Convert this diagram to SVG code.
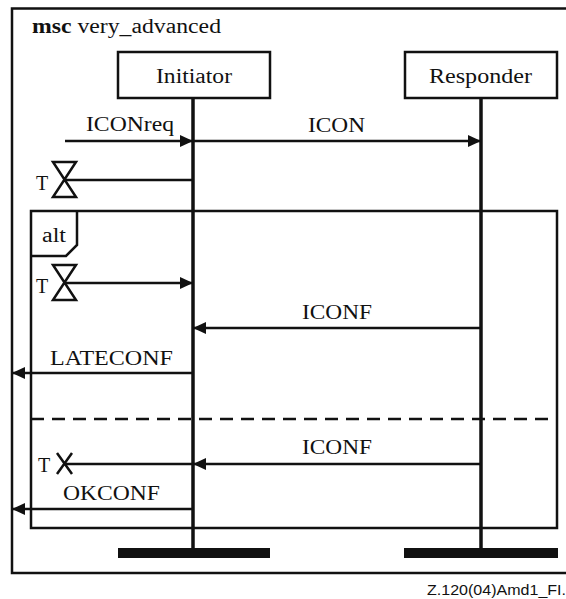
<svg xmlns="http://www.w3.org/2000/svg" width="566" height="599" viewBox="0 0 566 599">
<style>
.t{font-family:"Liberation Serif","Times New Roman",serif;font-size:20px;fill:#111}
.ln{stroke:#111;stroke-width:2.5;fill:none}
.life{stroke:#111;stroke-width:3.5;fill:none}
.box{stroke:#111;stroke-width:2.5;fill:#fff}
.bar{fill:#111}
</style>
<defs>
<marker id="ah" markerWidth="14" markerHeight="12" refX="13" refY="6" orient="auto" markerUnits="userSpaceOnUse">
<path d="M0,0 L13,6 L0,12 Z" fill="#111"/>
</marker>
</defs>
<rect width="566" height="599" fill="#fff"/>
<g id="frame">
<rect x="12" y="8.5" width="560" height="564.5" class="ln"/>
<text x="32" y="33" class="t" textLength="189" lengthAdjust="spacingAndGlyphs"><tspan font-weight="bold">msc</tspan> very_advanced</text>
</g>
<g id="initiator">
<rect x="118" y="52" width="152" height="46" class="box"/>
<text x="156" y="83" class="t" textLength="76" lengthAdjust="spacingAndGlyphs">Initiator</text>
<line x1="193" y1="98" x2="193" y2="548" class="life" stroke-width="3"/>
<rect x="118" y="548" width="152" height="10" class="bar"/>
</g>
<g id="responder">
<rect x="405" y="52" width="152" height="46" class="box"/>
<text x="429" y="83" class="t" textLength="103" lengthAdjust="spacingAndGlyphs">Responder</text>
<line x1="481" y1="98" x2="481" y2="548" class="life"/>
<rect x="404" y="548" width="154" height="10" class="bar"/>
</g>
<g id="alt">
<rect x="31" y="211" width="526" height="317" class="ln"/>
<path d="M31,256 L66,256 L77,245 L77,211" class="ln"/>
<text x="42" y="242" class="t" textLength="24" lengthAdjust="spacingAndGlyphs">alt</text>
<line x1="31" y1="419" x2="557" y2="419" class="ln" stroke-dasharray="13,8"/>
</g>
<g id="timers">
<path d="M53,162 L76,162 L53,197 L76,197 Z" class="ln" stroke-linejoin="miter"/>
<text x="36" y="190" class="t">T</text>
<path d="M53,265 L76,265 L53,300 L76,300 Z" class="ln"/>
<text x="36" y="293" class="t">T</text>
<path d="M57,453 L72,474 M72,453 L57,474" class="ln" stroke-width="3"/>
<text x="38" y="472" class="t">T</text>
</g>
<g id="connectors">
<line x1="65" y1="141" x2="193" y2="141" class="ln" marker-end="url(#ah)"/>
<text x="86" y="131" class="t" textLength="88" lengthAdjust="spacingAndGlyphs">ICONreq</text>
<line x1="193" y1="141" x2="481" y2="141" class="ln" marker-end="url(#ah)"/>
<text x="308" y="132" class="t" textLength="57" lengthAdjust="spacingAndGlyphs">ICON</text>
<line x1="65" y1="180" x2="193" y2="180" class="ln"/>
<line x1="65" y1="283" x2="193" y2="283" class="ln" marker-end="url(#ah)"/>
<line x1="481" y1="328" x2="193" y2="328" class="ln" marker-end="url(#ah)"/>
<text x="302" y="319" class="t" textLength="70" lengthAdjust="spacingAndGlyphs">ICONF</text>
<line x1="193" y1="373" x2="12" y2="373" class="ln" marker-end="url(#ah)"/>
<text x="50" y="365" class="t" textLength="123" lengthAdjust="spacingAndGlyphs">LATECONF</text>
<line x1="481" y1="464" x2="193" y2="464" class="ln" marker-end="url(#ah)"/>
<line x1="193" y1="464" x2="65" y2="464" class="ln"/>
<text x="302" y="454" class="t" textLength="70" lengthAdjust="spacingAndGlyphs">ICONF</text>
<line x1="193" y1="509" x2="12" y2="509" class="ln" marker-end="url(#ah)"/>
<text x="63" y="500" class="t" textLength="97" lengthAdjust="spacingAndGlyphs">OKCONF</text>
</g>
<text x="427" y="595" font-family="Liberation Sans,Arial,sans-serif" font-size="15" fill="#111" textLength="139" lengthAdjust="spacingAndGlyphs">Z.120(04)Amd1_FI.</text>
</svg>
